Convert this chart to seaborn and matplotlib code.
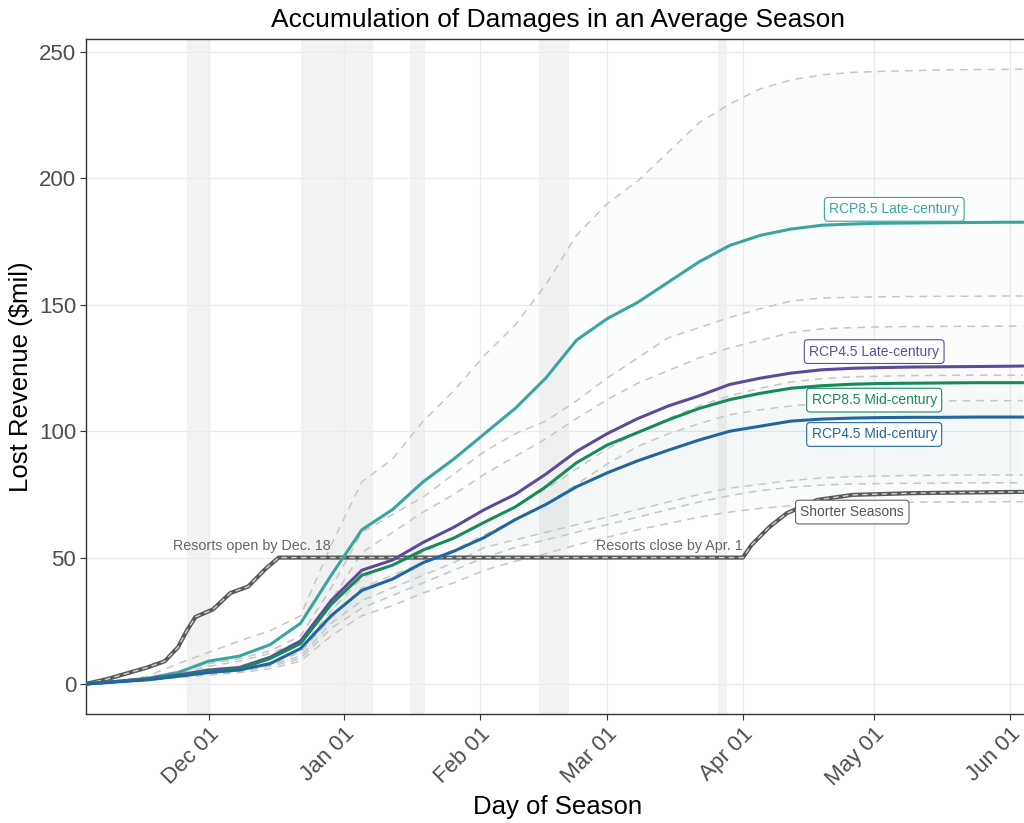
import pandas as pd
import numpy as np
import seaborn as sns
import matplotlib.pyplot as plt
import matplotlib.dates as mdates

# weekly sampling of the season
dates = ["2019-11-03", "2019-11-10", "2019-11-17", "2019-11-24", "2019-12-01", "2019-12-08",
         "2019-12-15", "2019-12-22", "2019-12-29", "2020-01-05", "2020-01-12", "2020-01-19",
         "2020-01-26", "2020-02-02", "2020-02-09", "2020-02-16", "2020-02-23", "2020-03-01",
         "2020-03-08", "2020-03-15", "2020-03-22", "2020-03-29", "2020-04-05", "2020-04-12",
         "2020-04-19", "2020-04-26", "2020-05-03", "2020-05-10", "2020-05-17", "2020-05-24",
         "2020-05-31", "2020-06-04"]

late85 = [0, 1, 2.2, 4.5, 9, 11, 15.5, 24, 43, 61, 69, 80, 89, 99, 109, 121, 136, 144.5, 151, 159,
          167, 173.5, 177.5, 180, 181.5, 182, 182.3, 182.4, 182.5, 182.6, 182.7, 182.7]
late45 = [0, 1, 2, 3.5, 5.5, 6.5, 10.5, 17, 33, 45, 49, 56, 62, 69, 75, 83, 92, 99, 105, 110,
          114, 118.5, 121, 123, 124.3, 124.9, 125.2, 125.4, 125.5, 125.6, 125.7, 125.8]
mid85 = [0, 0.9, 1.8, 3.2, 5, 6, 10, 16, 31.5, 43, 47, 53, 57.7, 64, 70, 78, 87.5, 94.5, 99.5, 104.5,
         109, 112.5, 115, 117, 118, 118.6, 118.9, 119, 119.1, 119.2, 119.2, 119.2]
mid45 = [0, 0.8, 1.6, 3, 4.5, 5.5, 8, 14, 27, 37, 41.5, 48, 52.5, 58, 65, 71, 78, 83.5, 88.3, 92.5,
         96.5, 100, 102, 104, 104.8, 105.2, 105.4, 105.5, 105.5, 105.6, 105.6, 105.6]

# individual model runs (dashed)
run1 = [0, 1, 3, 8, 12.5, 17, 21, 27, 55, 80, 89, 104, 116, 130, 142, 158, 177.5, 190, 199, 210.5,
        222, 229.5, 235.5, 239, 241, 242, 242.4, 242.7, 243, 243.1, 243.2, 243.3]
run2 = [0, 1, 2.5, 5, 8, 10, 13, 19, 38, 60, 67, 74, 83, 92, 99, 104, 112, 121, 129, 137,
        141, 145, 148.5, 151.5, 152.7, 153, 153.2, 153.3, 153.4, 153.4, 153.5, 153.5]
run3 = [0, 1, 2, 4, 7, 9, 12, 17, 33, 52, 60, 68, 75, 83, 90, 97, 105, 112.5, 119, 124,
        129, 133, 136, 139, 140.5, 141, 141.3, 141.4, 141.5, 141.5, 141.6, 141.6]
run4 = [0, 1, 2, 3.5, 5, 6, 8.5, 14, 29, 42, 47, 52, 58, 64, 70, 77, 85, 93, 99.5, 105,
        110, 114, 117, 119.5, 120.8, 121.5, 121.8, 122, 122.1, 122.2, 122.2, 122.2]
run5 = [0, 0.9, 1.9, 3.3, 4.8, 5.8, 8, 12.5, 26, 38, 43, 48, 53, 59, 65, 71, 79, 87, 94, 99,
        103, 106.5, 108.5, 110, 111, 111.5, 111.8, 112, 112, 112.1, 112.1, 112.1]
run6 = [0, 0.8, 1.8, 3, 4.5, 5.5, 7.5, 11, 24, 33, 38, 43, 48, 54, 57, 60, 63, 66, 69, 72,
        75, 77.5, 79, 80.5, 81.5, 82, 82.3, 82.5, 82.6, 82.7, 82.7, 82.7]
run7 = [0, 0.8, 1.6, 2.8, 4, 5, 7, 10, 22, 30, 35, 40, 45, 50, 54, 57, 60, 63, 66, 69,
        72, 74.5, 76.5, 77.8, 78.7, 79.1, 79.3, 79.4, 79.5, 79.6, 79.6, 79.6]
run8 = [0, 0.7, 1.5, 2.5, 3.5, 4.5, 6, 9, 19, 27, 31, 36, 40, 45, 48.5, 51.5, 55, 58, 61, 63.5,
        66, 68, 69.5, 70.5, 71.2, 71.6, 71.8, 71.9, 72, 72, 72.1, 72.1]

short_dates = ["2019-11-03", "2019-11-08", "2019-11-13", "2019-11-17", "2019-11-21", "2019-11-24",
               "2019-11-26", "2019-11-28", "2019-12-02", "2019-12-06", "2019-12-10", "2019-12-14",
               "2019-12-17", "2020-04-01", "2020-04-03", "2020-04-07", "2020-04-11", "2020-04-18",
               "2020-04-26", "2020-05-10", "2020-06-04"]
short_vals = [0, 2, 4.5, 6.5, 9, 14.5, 21, 26.5, 29.5, 36, 38.5, 45.5, 50, 50, 55, 62, 67.5, 72.8,
              74.8, 75.5, 76]

holidays = [("2019-11-26", "2019-12-01"), ("2019-12-22", "2020-01-07 12:00"),
            ("2020-01-16", "2020-01-19 08:00"), ("2020-02-14 12:00", "2020-02-21 06:00"),
            ("2020-03-26 08:00", "2020-03-28 08:00")]

scen_names = ["RCP8.5 Late-century", "RCP4.5 Late-century", "RCP8.5 Mid-century", "RCP4.5 Mid-century"]
scen_colors = ["#3AA59F", "#5D4A9A", "#178A5A", "#2166A1"]
label_x = ["2020-05-05 14:00", "2020-05-01", "2020-05-01", "2020-05-01"]
label_y = [187.8, 131.5, 112.3, 98.7]

dt = pd.to_datetime(dates)
df = pd.concat([pd.DataFrame({"date": dt, "val": v, "scen": s})
                for s, v in zip(scen_names, [late85, late45, mid85, mid45])])
runs = [run1, run2, run3, run4, run5, run6, run7, run8]
df_runs = pd.concat([pd.DataFrame({"date": dt, "val": v, "run": i}) for i, v in enumerate(runs)])

sns.set_theme(style="white")
plt.rcParams['font.family'] = ['Liberation Sans', 'DejaVu Sans']

fig = plt.figure(figsize=(10.24, 8.23), dpi=100)
ax = fig.add_axes([86 / 1024, 109 / 823, 944 / 1024, 675 / 823])

for a, b in holidays:
    ax.axvspan(pd.Timestamp(a), pd.Timestamp(b), color="#f2f2f2", lw=0, zorder=0)

# faint ranges of the runs
for (lo, hi), c in zip([(run2, run1), (run6, run3), (run7, run4), (run8, run5)], scen_colors):
    ax.fill_between(dt, lo, hi, color=c, alpha=0.016, lw=0, zorder=1)

for i in range(len(runs)):
    sns.lineplot(data=df_runs[df_runs["run"] == i], x="date", y="val", ax=ax, color="#c6c6c6",
                 lw=1.1, linestyle=(0, (5, 4)), zorder=2)

sd = pd.to_datetime(short_dates)
sns.lineplot(x=sd, y=short_vals, ax=ax, color="#595959", lw=3, zorder=3)
sns.lineplot(x=sd, y=short_vals, ax=ax, color="#d0d0d0", lw=1, linestyle=(0, (4, 3)), zorder=3)

sns.lineplot(data=df, x="date", y="val", hue="scen", palette=scen_colors, hue_order=scen_names,
             lw=2.2, legend=False, ax=ax, sort=False, zorder=4)

box = dict(boxstyle="round,pad=0.35,rounding_size=0.25", fc="white", lw=0.8)
for t, x, y, c in zip(scen_names, label_x, label_y, scen_colors):
    ax.text(pd.Timestamp(x), y, t, color=c, ha="center", va="center", fontsize=10, zorder=6,
            bbox=dict(box, ec=c))
ax.text(pd.Timestamp("2020-04-26"), 68, "Shorter Seasons", color="#555555", ha="center",
        va="center", fontsize=10, zorder=6, bbox=dict(box, ec="#666666"))
ax.text(pd.Timestamp("2019-12-10 20:00"), 54.6, "Resorts open by Dec. 18", color="#666666",
        ha="center", va="center", fontsize=10.3, zorder=6)
ax.text(pd.Timestamp("2020-03-15 06:00"), 54.6, "Resorts close by Apr. 1", color="#666666",
        ha="center", va="center", fontsize=10.3, zorder=6)

ax.set_xlim(pd.Timestamp("2019-11-03"), pd.Timestamp("2020-06-05 14:00"))
ax.set_ylim(-11.9, 255.2)
ax.set_yticks([0, 50, 100, 150, 200, 250])
ax.xaxis.set_major_locator(mdates.MonthLocator())
ax.xaxis.set_major_formatter(mdates.DateFormatter("%b %d"))
ax.grid(True, color="#ebebeb", lw=0.9)
ax.set_axisbelow(True)
ax.tick_params(axis="both", bottom=True, left=True, length=4, width=0.8, color="#333333",
               labelsize=16, labelcolor="#4d4d4d", direction="out", pad=3)
plt.setp(ax.get_xticklabels(), rotation=45, ha="right", rotation_mode="anchor")
for s in ax.spines.values():
    s.set_color("#333333")
    s.set_linewidth(1)

ax.set_xlabel("Day of Season", fontsize=18.5, color="black", labelpad=3)
ax.set_ylabel("Lost Revenue ($mil)", fontsize=18.5, color="black", labelpad=4)
ax.set_title("Accumulation of Damages in an Average Season", fontsize=19, color="black", pad=9)

fig.savefig("out.png", dpi=100)
